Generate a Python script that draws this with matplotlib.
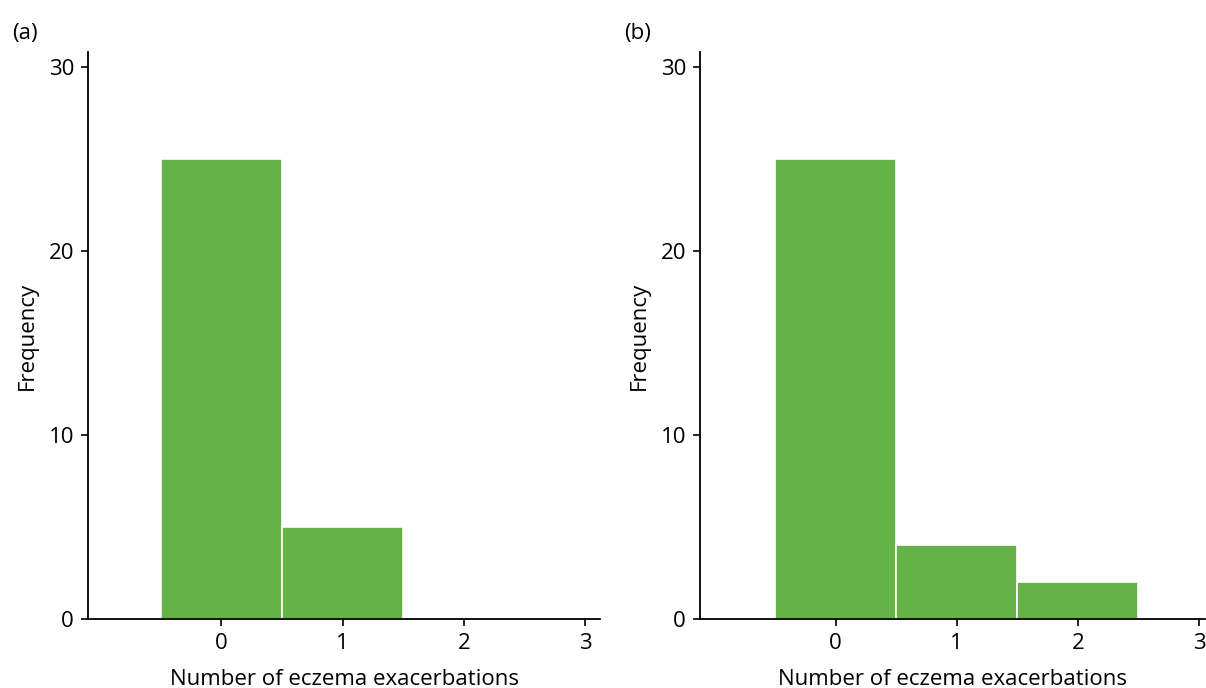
import matplotlib
matplotlib.use("Agg")
import matplotlib.pyplot as plt

plt.rcParams['font.family'] = ['Open Sans', 'DejaVu Sans']

# Histogram counts of eczema exacerbations per child
categories = [0, 1, 2]
freq_a = [25, 5, 0]
freq_b = [25, 4, 2]
panel_labels = ['(a)', '(b)']
xticks = [0, 1, 2, 3]
yticks = [0, 10, 20, 30]

bar_color = '#65b347'
W, H = 1206, 688
fig = plt.figure(figsize=(W / 100, H / 100), dpi=100)

axes_px = [(88, 600), (700, 1205)]
xlims = [(-1.1, 3.12), (-1.12, 3.05)]
bottom_px, top_px = 619, 52

for (x0, x1), xl, freq, lab in zip(axes_px, xlims, [freq_a, freq_b], panel_labels):
    ax = fig.add_axes([x0 / W, 1 - bottom_px / H, (x1 - x0) / W, (bottom_px - top_px) / H])
    ax.bar(categories, freq, width=1.0, color=bar_color, edgecolor='white', linewidth=1.2)
    ax.set_xlim(*xl)
    ax.set_ylim(0, 30.8)
    ax.set_xticks(xticks)
    ax.set_yticks(yticks)
    for s in ['top', 'right']:
        ax.spines[s].set_visible(False)
    for s in ['left', 'bottom']:
        ax.spines[s].set_linewidth(1.3)
    ax.tick_params(direction='out', length=5, width=1.2, labelsize=16, pad=5)
    ax.set_xlabel('Number of eczema exacerbations', fontsize=16, labelpad=11)
    ax.set_ylabel('Frequency', fontsize=16, labelpad=8)
    ax.text((x0 - 76) / W, 1 - 33 / H, lab, transform=fig.transFigure,
            fontsize=16, va='center', ha='left')

fig.savefig('out.png', dpi=100)
